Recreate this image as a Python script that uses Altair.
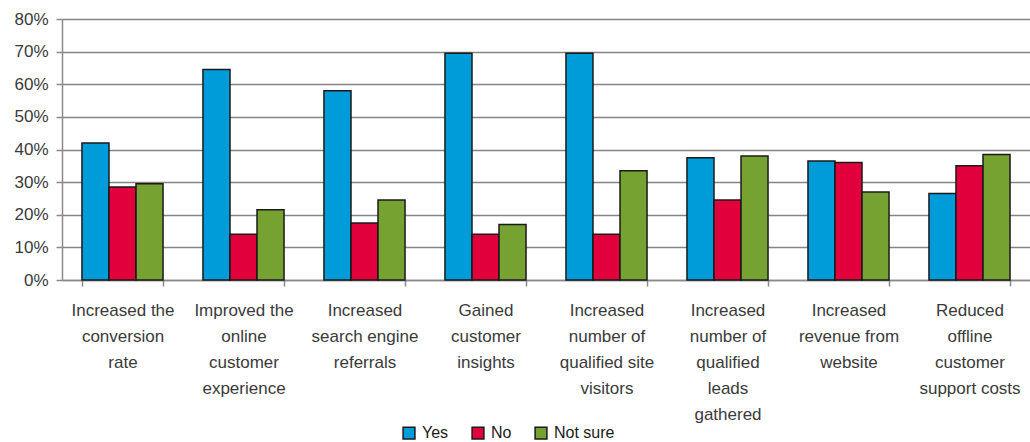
import altair as alt
import pandas as pd

categories = [
    "Increased the|conversion|rate",
    "Improved the|online|customer|experience",
    "Increased|search engine|referrals",
    "Gained|customer|insights",
    "Increased|number of|qualified site|visitors",
    "Increased|number of|qualified|leads|gathered",
    "Increased|revenue from|website",
    "Reduced|offline|customer|support costs",
]
series = ["Yes", "No", "Not sure"]
yes = [0.42, 0.645, 0.58, 0.695, 0.695, 0.375, 0.365, 0.265]
no = [0.285, 0.14, 0.175, 0.14, 0.14, 0.245, 0.36, 0.35]
not_sure = [0.295, 0.215, 0.245, 0.17, 0.335, 0.38, 0.27, 0.385]
colors = ["#009CDA", "#E1003C", "#76A232"]
y_ticks = [0, 0.1, 0.2, 0.3, 0.4, 0.5, 0.6, 0.7, 0.8]

rows = []
for s, vals in zip(series, [yes, no, not_sure]):
    for c, v in zip(categories, vals):
        rows.append({"category": c, "series": s, "value": v})
df = pd.DataFrame(rows)

FONT = "Liberation Sans"

chart = alt.Chart(df).mark_bar(stroke="#1a1a1a", strokeWidth=1.5).encode(
    x=alt.X(
        "category:N",
        sort=categories,
        title=None,
        scale=alt.Scale(paddingInner=0.33, paddingOuter=0.165),
        axis=alt.Axis(
            labelAngle=0,
            labelExpr="split(datum.label, '|')",
            labelFont=FONT,
            labelFontSize=17,
            labelColor="#3a3a3a",
            labelLineHeight=26,
            labelPadding=16,
            labelBaseline="top",
            tickBand="extent",
            tickSize=6,
            tickColor="#8a8a8a",
            tickWidth=1.5,
            domainColor="#8a8a8a",
            domainWidth=1.5,
            grid=False,
            labelLimit=200,
        ),
    ),
    xOffset=alt.XOffset("series:N", sort=series, scale=alt.Scale(paddingInner=0, paddingOuter=0)),
    y=alt.Y(
        "value:Q",
        title=None,
        scale=alt.Scale(domain=[0, 0.8], nice=False),
        axis=alt.Axis(
            values=y_ticks,
            format=".0%",
            labelFont=FONT,
            labelFontSize=17,
            labelColor="#3a3a3a",
            labelPadding=8,
            tickSize=6,
            tickColor="#8a8a8a",
            tickWidth=1.5,
            domainColor="#8a8a8a",
            domainWidth=1.5,
            grid=True,
            gridColor="#858585",
            gridWidth=1.6,
        ),
    ),
    color=alt.Color(
        "series:N",
        sort=series,
        scale=alt.Scale(domain=series, range=colors),
        legend=alt.Legend(
            title=None,
            orient="none",
            direction="horizontal",
            legendX=339,
            legendY=406,
            symbolType="square",
            symbolSize=140,
            symbolStrokeColor="#1a1a1a",
            symbolStrokeWidth=1.5,
            labelFont=FONT,
            labelFontSize=16,
            labelColor="#1a1a1a",
            labelOffset=5,
            columnPadding=20,
        ),
    ),
).properties(
    width=968,
    height=261,
    autosize="none",
    padding={"left": 62, "top": 19, "right": 0, "bottom": 162},
).configure_view(stroke=None).configure(background="white")

chart.save("out.html", embed_options={"renderer": "svg", "actions": False})
